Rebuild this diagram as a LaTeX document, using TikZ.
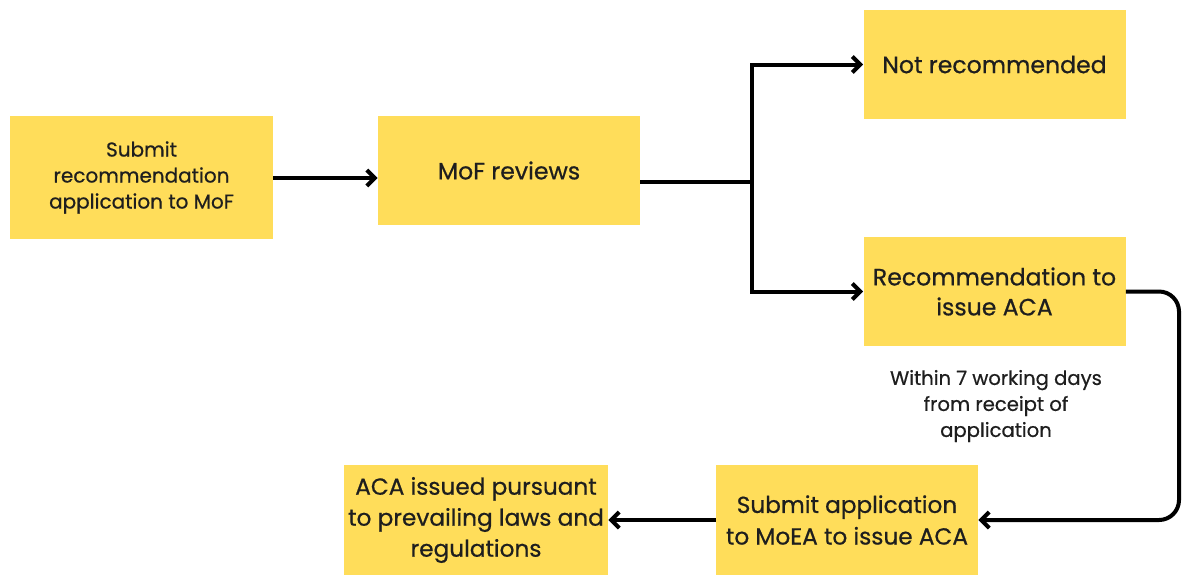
\documentclass[tikz,border=0pt]{standalone}
\usepackage{fontspec}
\setmainfont{Poppins}[FakeBold=0.6]
\usetikzlibrary{arrows.meta, positioning}
\definecolor{boxfill}{RGB}{255, 221, 90}
\definecolor{ink}{RGB}{30, 30, 30}

\begin{document}
\begin{tikzpicture}[
    x=0.5pt, y=-0.5pt,
    box/.style={fill=boxfill, text=ink, align=center, inner sep=2pt,
        minimum width=131pt, minimum height=54.5pt},
    flow/.style={-{Straight Barb[length=4pt, width=8pt, line width=2pt]},
        line width=2pt, draw=black},
    note/.style={font=\fontsize{9.8}{13}\selectfont, text=ink, align=center}
]
    \useasboundingbox (0,0) rectangle (1182,575);

    \node[box, minimum width=131.5pt, minimum height=61.5pt,
        font=\fontsize{10}{13}\selectfont] (submit) at (141.5,177.5)
        {Submit\\recommendation\\application to MoF};
    \node[box, font=\fontsize{11.8}{15}\selectfont] (review) at (509,170.5) {MoF reviews};
    \node[box, font=\fontsize{11.8}{15}\selectfont] (notrec) at (994.5,64.5) {Not recommended};
    \node[box, font=\fontsize{11.8}{15}\selectfont] (rec) at (994.5,291.5)
        {Recommendation to\\issue ACA};
    \node[box, minimum height=55pt, font=\fontsize{11.6}{15.8}\selectfont] (moea) at (847,520)
        {Submit application\\to MoEA to issue ACA};
    \node[box, minimum width=132pt, minimum height=55pt,
        font=\fontsize{11.6}{15.5}\selectfont] (issued) at (476,520)
        {ACA issued pursuant\\to prevailing laws and\\regulations};
    \node[note] (days) at (996,406) {Within 7 working days\\from receipt of\\application};

    \coordinate (fork) at (752,182);
    \coordinate (edge) at (1179,0);

    \draw[flow] (submit.east |- 0,178) -- (review.west |- 0,178);
    \draw[line width=2pt] (review.east |- fork) -- (fork);
    \draw[flow] (fork) |- (notrec.west);
    \draw[flow] (fork) |- (rec.west);
    \draw[flow, rounded corners=10pt] (rec.east) -- (rec.east -| edge)
        -- (moea.east -| edge) -- (moea.east);
    \draw[flow] (moea.west) -- (issued.east);
\end{tikzpicture}
\end{document}
